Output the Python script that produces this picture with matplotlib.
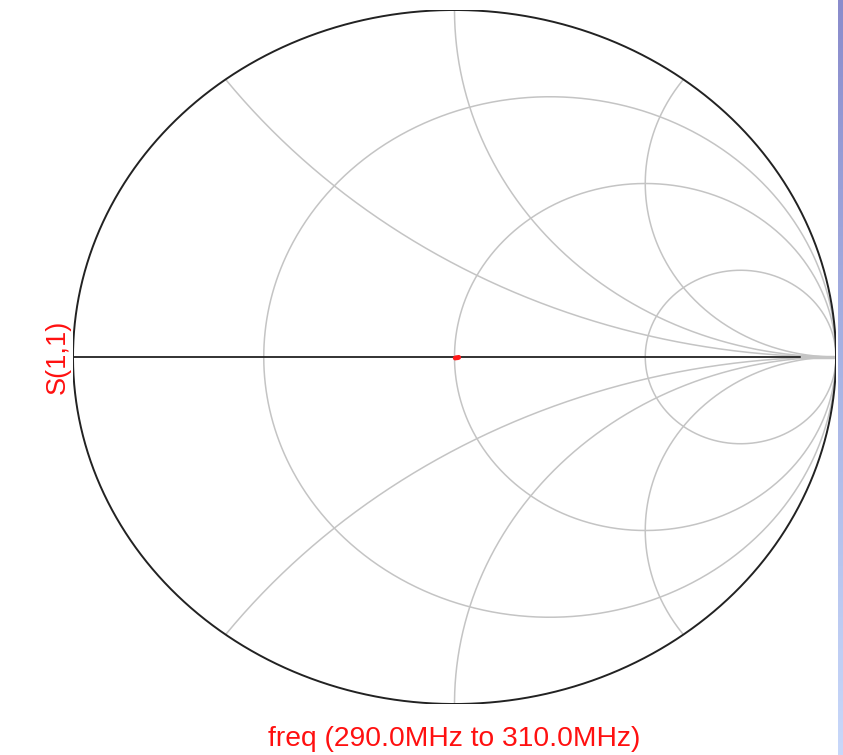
import numpy as np
import matplotlib.pyplot as plt
from matplotlib.colors import LinearSegmentedColormap

# Smith chart grid values
r_values = [1/3, 1.0, 3.0]          # constant-resistance circles
x_values = [0.5, 1.0, 2.0]          # constant-reactance arcs (+/-)

# S(1,1) sweep near the chart centre, 290-310 MHz
s11_re = [0.002, 0.005, 0.008, 0.011]
s11_im = [-0.003, -0.002, -0.002, -0.001]

W, H = 843, 755
fig = plt.figure(figsize=(W / 100, H / 100), dpi=100)
fig.patch.set_facecolor('white')

# chart area in pixels: unit circle spans x 73..836, y 10..704
left, right, top, bottom = 73, 836, 10, 704
ax = fig.add_axes([left / W, (H - bottom) / H, (right - left) / W, (bottom - top) / H])
ax.set_xlim(-1, 1)
ax.set_ylim(-1, 1)
ax.axis('off')

grid_col = '#c4c4c4'
t = np.linspace(0, 2 * np.pi, 1000)

# resistance circles
for r in r_values:
    c = r / (1 + r)
    rad = 1 / (1 + r)
    ax.plot(c + rad * np.cos(t), rad * np.sin(t), color=grid_col, lw=1.1, zorder=2)

# reactance arcs, clipped to the unit circle
for x in x_values:
    for sgn in (1, -1):
        cy = sgn / x
        rad = 1 / x
        px = 1 + rad * np.cos(t)
        py = cy + rad * np.sin(t)
        inside = px ** 2 + py ** 2 <= 1.0005
        px = np.where(inside, px, np.nan)
        py = np.where(inside, py, np.nan)
        ax.plot(px, py, color=grid_col, lw=1.1, zorder=2)

# real axis and outer boundary
ax.plot([-1, 0.91], [0, 0], color='#222222', lw=1.3, zorder=3)
ax.plot([0.91, 1], [0, 0], color=grid_col, lw=2.5, zorder=3)
ax.plot(np.cos(t), np.sin(t), color='#222222', lw=1.4, zorder=4)

# measured trace
ax.plot(s11_re, s11_im, color='#ff1a1a', lw=3.5, solid_capstyle='round', zorder=5)

# labels
fig.text(58 / W, 1 - 357 / H, 'S(1,1)', color='#ff1010', fontsize=19.5,
         family='Liberation Sans', rotation=90, ha='center', va='center')
fig.text(454 / W, 1 - 739 / H, 'freq (290.0MHz to 310.0MHz)', color='#ff1010',
         fontsize=20.3, family='Liberation Sans', ha='center', va='center')

# window edge strip on the right
cmap = LinearSegmentedColormap.from_list('edge', ['#8a8ccc', '#a8b4e4', '#c8d8fa'])
bar = fig.add_axes([838 / W, 0, 5 / W, 1])
bar.imshow(np.linspace(0, 1, 256).reshape(-1, 1), aspect='auto', cmap=cmap)
bar.axis('off')

fig.savefig('out.png', dpi=100)
